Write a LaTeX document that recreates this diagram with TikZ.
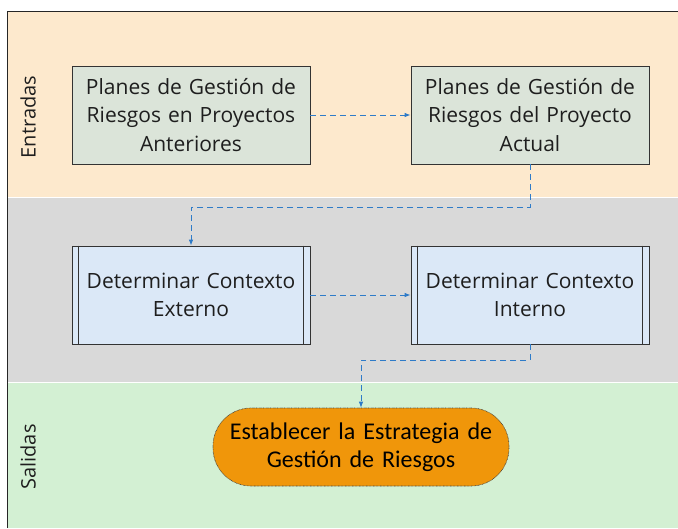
\documentclass[tikz,border=0pt]{standalone}
\usepackage{fontspec}
\setmainfont{Open Sans}
\newfontfamily\carlito{Carlito}
\usetikzlibrary{arrows.meta}
\definecolor{peach}{HTML}{FDE9CD}
\definecolor{lanegray}{HTML}{D9D9D9}
\definecolor{lanegreen}{HTML}{D3F0D3}
\definecolor{boxgreen}{HTML}{DBE4D9}
\definecolor{boxblue}{HTML}{DBE8F7}
\definecolor{termorange}{HTML}{F0960A}
\definecolor{connblue}{HTML}{2E7BC8}
\definecolor{txt}{HTML}{1E1E1E}
\tikzset{
  docbox/.style={draw=black!80, line width=0.8pt, fill=boxgreen, minimum width=238pt, minimum height=98pt,
    text width=234pt, align=center, inner sep=0pt, font=\fontsize{21}{28.5}\selectfont, text=txt},
  procbox/.style={docbox, fill=boxblue},
  termbox/.style={draw=black!75, line width=0.6pt, dash pattern=on 0.7pt off 0.7pt, fill=termorange,
    rounded corners=38pt, minimum width=296pt, minimum height=78pt, text width=290pt, align=center,
    inner sep=0pt, font=\carlito\fontsize{24}{28}\selectfont, text=black},
  conn/.style={draw=connblue, line width=0.8pt, dash pattern=on 6pt off 4pt,
    -{Latex[length=6pt,width=4.5pt]}},
  lanelabel/.style={rotate=90, font=\fontsize{20}{22}\selectfont, text=txt, inner sep=0pt},
}
\begin{document}
\begin{tikzpicture}[x=1pt,y=-1pt]
\useasboundingbox (0,0) rectangle (678,528);
\fill[white] (0,0) rectangle (678,528);
% lanes
\fill[peach] (7,11) rectangle (678,196.5);
\fill[lanegray] (7,197.5) rectangle (678,381.5);
\fill[lanegreen] (7,382.5) rectangle (678,528);
\draw[black!85, line width=1pt] (7,528) -- (7,11) -- (678,11);
\node[lanelabel] (lin) at (28,117) {Entradas};
\node[lanelabel] (lout) at (28,457) {Salidas};
% nodes
\node[docbox] (a) at (191,115) {Planes de Gestión de\\Riesgos en Proyectos\\Anteriores};
\node[docbox] (b) at (530,115) {Planes de Gestión de\\Riesgos del Proyecto\\Actual};
\node[procbox] (c) at (191,295) {Determinar Contexto\\Externo};
\node[procbox] (d) at (530,295) {Determinar Contexto\\Interno};
\foreach \n in {c,d}{
  \draw[black!80, line width=0.8pt] ([xshift=7pt]\n.north west) -- ([xshift=7pt]\n.south west);
  \draw[black!80, line width=0.8pt] ([xshift=-7pt]\n.north east) -- ([xshift=-7pt]\n.south east);
}
\node[termbox] (e) at (361,447) {Establecer la Estrategia de\\Gestión de Riesgos};
% connectors
\draw[conn] (a.east) -- (b.west);
\draw[conn] (b.south) -- ++(0,43) -| (c.north);
\draw[conn] (c.east) -- (d.west);
\draw[conn] (d.south) -- ++(0,16) -| (e.north);
\end{tikzpicture}
\end{document}
